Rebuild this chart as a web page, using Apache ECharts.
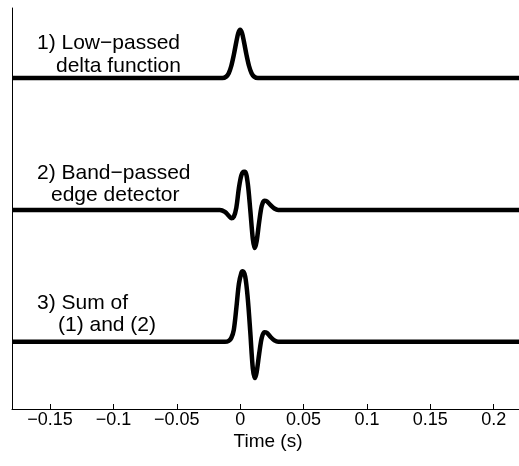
<!DOCTYPE html>
<html>
<head>
<meta charset="utf-8">
<script src="https://cdn.jsdelivr.net/npm/echarts@6/dist/echarts.min.js"></script>
<style>
  html, body { margin: 0; padding: 0; background: #fff; }
  #chart { width: 519px; height: 466px; }
</style>
</head>
<body>
<div id="chart"></div>
<script>
// time ticks (s)
var xTicks = [-0.15, -0.1, -0.05, 0, 0.05, 0.1, 0.15, 0.2];
var xName = "Time (s)";

// 1) low-passed delta function, [time, amplitude]
var lowPassed = [
  [-0.18, 0], [-0.014, 0], [-0.011, 0.03], [-0.009, 0.1], [-0.007, 0.25],
  [-0.005, 0.48], [-0.003, 0.75], [-0.0015, 0.93], [0, 1.0], [0.0015, 0.93],
  [0.003, 0.75], [0.005, 0.48], [0.007, 0.25], [0.009, 0.1], [0.011, 0.03],
  [0.014, 0], [0.22, 0]
];

// 2) band-passed edge detector
var bandPassed = [
  [-0.18, 0], [-0.016, 0], [-0.012, -0.04], [-0.009, -0.12], [-0.007, -0.17],
  [-0.005, -0.14], [-0.003, 0.05], [-0.001, 0.45], [0.001, 0.72], [0.003, 0.79],
  [0.004, 0.79], [0.006, 0.55], [0.008, 0.0], [0.01, -0.6], [0.0115, -0.79],
  [0.013, -0.65], [0.015, -0.25], [0.017, 0.08], [0.019, 0.19], [0.021, 0.18],
  [0.024, 0.1], [0.027, 0.03], [0.03, 0], [0.22, 0]
];

// 3) sum of (1) and (2)
var sumTrace = [
  [-0.18, 0], [-0.015, 0], [-0.012, 0], [-0.009, 0.02], [-0.007, 0.08],
  [-0.005, 0.25], [-0.003, 0.7], [-0.001, 1.2], [0.001, 1.43], [0.002, 1.46],
  [0.004, 1.35], [0.006, 0.9], [0.008, 0.2], [0.01, -0.55], [0.0117, -0.75],
  [0.013, -0.63], [0.015, -0.25], [0.017, 0.08], [0.019, 0.2], [0.021, 0.19],
  [0.024, 0.1], [0.027, 0.03], [0.03, 0], [0.22, 0]
];

// vertical offset of each trace
var offsets = [6.85, 4.12, 1.39];

var labelLines = [
  "1) Low\u2212passed", "delta function",
  "2) Band\u2212passed", "edge detector",
  "3) Sum of", "(1) and (2)"
];

var font = "Liberation Sans, Helvetica, Arial, sans-serif";

function shift(arr, off) {
  return arr.map(function (p) { return [p[0], p[1] + off]; });
}

var chart = echarts.init(document.getElementById("chart"));

var traces = [lowPassed, bandPassed, sumTrace];
var series = traces.map(function (t, i) {
  return {
    type: "line",
    data: shift(t, offsets[i]),
    showSymbol: false,
    smooth: 0.3,
    animation: false,
    lineStyle: { color: "#000", width: 4.5 }
  };
});

// text placed above each trace
var textPos = [[37, 43], [56, 66], [37, 173], [51, 195], [37, 303], [58, 325]];
var graphics = labelLines.map(function (s, i) {
  return {
    type: "text",
    x: textPos[i][0],
    y: textPos[i][1],
    style: {
      text: s,
      font: "21px " + font,
      fill: "#000",
      align: "left",
      verticalAlign: "middle"
    }
  };
});
// axis title
graphics.push({
  type: "text",
  x: 268,
  y: 442,
  style: {
    text: xName,
    font: "19px " + font,
    fill: "#000",
    align: "center",
    verticalAlign: "middle"
  }
});

var option = {
  backgroundColor: "#fff",
  animation: false,
  grid: { left: 12, right: -5, top: 8, bottom: 57, containLabel: false },
  xAxis: {
    type: "value",
    min: -0.18,
    max: 0.22,
    axisLine: { show: true, onZero: false, lineStyle: { color: "#000", width: 1 } },
    axisTick: {
      show: true, inside: true, length: 5,
      customValues: xTicks,
      lineStyle: { color: "#000" }
    },
    axisLabel: {
      customValues: xTicks,
      margin: 2,
      fontFamily: font,
      fontSize: 18,
      color: "#000",
      formatter: function (v) {
        return v < 0 ? "\u2212" + String(-v) : String(v);
      }
    },
    splitLine: { show: false }
  },
  yAxis: {
    type: "value",
    min: 0,
    max: 8.3,
    axisLine: { show: true, onZero: false, lineStyle: { color: "#000", width: 1 } },
    axisTick: { show: false },
    axisLabel: { show: false },
    splitLine: { show: false }
  },
  graphic: graphics,
  series: series
};

chart.setOption(option);
</script>
</body>
</html>
